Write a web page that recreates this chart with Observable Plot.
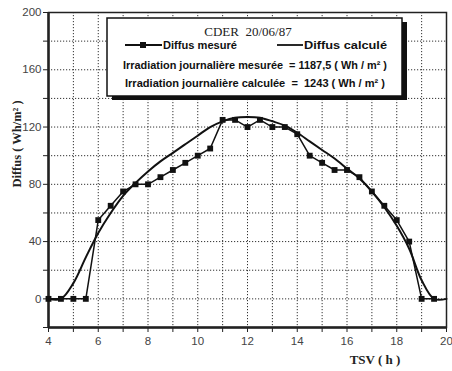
<!DOCTYPE html>
<html>
<head>
<meta charset="utf-8">
<script src="https://cdn.jsdelivr.net/npm/d3@7"></script>
<script src="https://cdn.jsdelivr.net/npm/@observablehq/plot@0.6"></script>
<style>
  html, body { margin: 0; padding: 0; background: white; }
  #chart svg { display: block; }
</style>
</head>
<body>
<div id="chart"></div>
<script>
// Measured diffuse irradiance (TSV hours, Wh/m²)
const measHours = [4, 4.5, 5, 5.5, 6, 6.5, 7, 7.5, 8, 8.5, 9, 9.5, 10, 10.5, 11, 11.5, 12, 12.5, 13, 13.5, 14, 14.5, 15, 15.5, 16, 16.5, 17, 17.5, 18, 18.5, 19, 19.5];
const measValues = [0, 0, 0, 0, 55, 65, 75, 80, 80, 85, 90, 95, 100, 105, 125, 125, 120, 125, 120, 120, 115, 100, 95, 90, 90, 85, 75, 65, 55, 40, 0, 0];
// Calculated diffuse irradiance
const calcHours = [4, 4.5, 5, 5.5, 6, 6.5, 7, 7.5, 8, 8.5, 9, 9.5, 10, 10.5, 11, 11.5, 12, 12.5, 13, 13.5, 14, 14.5, 15, 15.5, 16, 16.5, 17, 17.5, 18, 18.5, 19, 19.5, 20];
const calcValues = [0, 0, 11, 29, 46, 60, 72, 81, 89, 96, 102, 108, 114, 120, 124, 126.5, 127, 126.5, 124, 121, 116, 110, 104, 98, 91, 84, 75, 64, 51, 35, 13, 0, 0];
// Ticks
const xTickValues = [4, 5, 6, 7, 8, 9, 10, 11, 12, 13, 14, 15, 16, 17, 18, 19, 20];
const xTickLabels = ["4", "", "6", "", "8", "", "10", "", "12", "", "14", "", "16", "", "18", "", "20"];
const yTickValues = [-20, 0, 20, 40, 60, 80, 100, 120, 140, 160, 180, 200];
const yTickLabels = ["", "0", "", "40", "", "80", "", "120", "", "160", "", "200"];
const xGrid = [5, 6, 7, 8, 9, 10, 11, 12, 13, 14, 15, 16, 17, 18, 19];
const yGrid = [0, 20, 40, 60, 80, 100, 120, 140, 160, 180];
// Texts
const legendTitle = "CDER  20/06/87";
const seriesNames = ["Diffus mesuré", "Diffus calculé"];
const irrMeasured = "Irradiation journalière mesurée  = 1187,5 ( Wh / m² )";
const irrCalculated = "Irradiation journalière calculée  =  1243 ( Wh / m² )";
const xTitle = "TSV ( h )";
const yTitle = "Diffus ( Wh/m² )";

const measured = measHours.map((h, i) => ({h, v: measValues[i]}));
const calculated = calcHours.map((h, i) => ({h, v: calcValues[i]}));

const tickFont = "'Liberation Sans Narrow', 'Arial Narrow', 'Liberation Sans', Arial, sans-serif";

const plot = Plot.plot({
  width: 452,
  height: 371,
  marginLeft: 48,
  marginRight: 6,
  marginTop: 12,
  marginBottom: 44,
  x: {domain: [4, 20]},
  y: {domain: [-20, 200]},
  style: {background: "white", fontFamily: tickFont, fontSize: "11.5px", color: "#444"},
  marks: [
    Plot.ruleX(xGrid, {stroke: "#333", strokeWidth: 1, strokeDasharray: "1.2,1.8"}),
    Plot.ruleY(yGrid, {stroke: "#333", strokeWidth: 1, strokeDasharray: "1.2,1.8"}),
    Plot.axisX({ticks: xTickValues, tickFormat: (d) => xTickLabels[xTickValues.indexOf(d)], tickSize: 5, tickPadding: 4, label: null, stroke: "#222"}),
    Plot.axisY({ticks: yTickValues, tickFormat: (d) => yTickLabels[yTickValues.indexOf(d)], tickSize: 5, tickPadding: 2, label: null, stroke: "#222"}),
    Plot.frame({stroke: "#222", strokeWidth: 1.5}),
    Plot.ruleX([4], {stroke: "#222", strokeWidth: 2.5}),
    Plot.ruleY([-20], {stroke: "#222", strokeWidth: 2.5}),
    Plot.line(calculated, {x: "h", y: "v", curve: "catmull-rom", stroke: "#111", strokeWidth: 2}),
    Plot.line(measured, {x: "h", y: "v", stroke: "#111", strokeWidth: 1.5}),
    Plot.dot(measured, {x: "h", y: "v", symbol: "square", fill: "#111", stroke: "none", r: 3.3})
  ]
});

document.getElementById("chart").appendChild(plot);

const svg = d3.select(plot);
const serif = "'Liberation Serif', 'Times New Roman', serif";
const narrowBold = "'Liberation Sans Narrow', 'Arial Narrow', 'Liberation Sans', Arial, sans-serif";

// axis titles
svg.append("text").attr("x", 375).attr("y", 364).attr("text-anchor", "middle")
  .attr("font-family", serif).attr("font-weight", "bold").attr("font-size", 13).attr("fill", "#222").text(xTitle);
svg.append("text").attr("transform", "translate(21,144) rotate(-90)").attr("text-anchor", "middle")
  .attr("font-family", serif).attr("font-weight", "bold").attr("font-size", 12.5).attr("fill", "#222").text(yTitle);

// legend box
const g = svg.append("g").attr("text-anchor", "start");
g.append("rect").attr("x", 112).attr("y", 22).attr("width", 295).attr("height", 78).attr("fill", "#111");
g.append("rect").attr("x", 107).attr("y", 18).attr("width", 295).attr("height", 78).attr("fill", "white").attr("stroke", "#111").attr("stroke-width", 1.5);
g.append("text").attr("x", 248).attr("y", 36).attr("text-anchor", "middle").attr("font-family", serif)
  .attr("font-size", 13).attr("fill", "#222").text(legendTitle);
// measured legend
g.append("line").attr("x1", 125).attr("x2", 162).attr("y1", 45).attr("y2", 45).attr("stroke", "#111").attr("stroke-width", 1.8);
g.append("rect").attr("x", 140).attr("y", 42).attr("width", 6).attr("height", 6).attr("fill", "#111");
g.append("text").attr("x", 163).attr("y", 49).attr("text-anchor", "start").attr("font-family", narrowBold).attr("font-weight", "bold")
  .attr("font-size", 11.5).attr("fill", "#111").attr("textLength", 74).attr("lengthAdjust", "spacingAndGlyphs").text(seriesNames[0]);
// calculated legend
g.append("line").attr("x1", 277).attr("x2", 303).attr("y1", 45).attr("y2", 45).attr("stroke", "#111").attr("stroke-width", 1.8);
g.append("text").attr("x", 304).attr("y", 49).attr("text-anchor", "start").attr("font-family", narrowBold).attr("font-weight", "bold")
  .attr("font-size", 11.5).attr("fill", "#111").attr("textLength", 83).attr("lengthAdjust", "spacingAndGlyphs").text(seriesNames[1]);
// irradiation lines
function irrLine(x, y, txt, len) {
  g.append("text").attr("x", x).attr("y", y).attr("text-anchor", "start").attr("font-family", narrowBold).attr("font-weight", "bold")
    .attr("font-size", 11.5).attr("fill", "#111").attr("textLength", len).attr("lengthAdjust", "spacingAndGlyphs").text(txt);
}
irrLine(123, 69, irrMeasured, 264);
irrLine(125, 87, irrCalculated, 260);
</script>
</body>
</html>
